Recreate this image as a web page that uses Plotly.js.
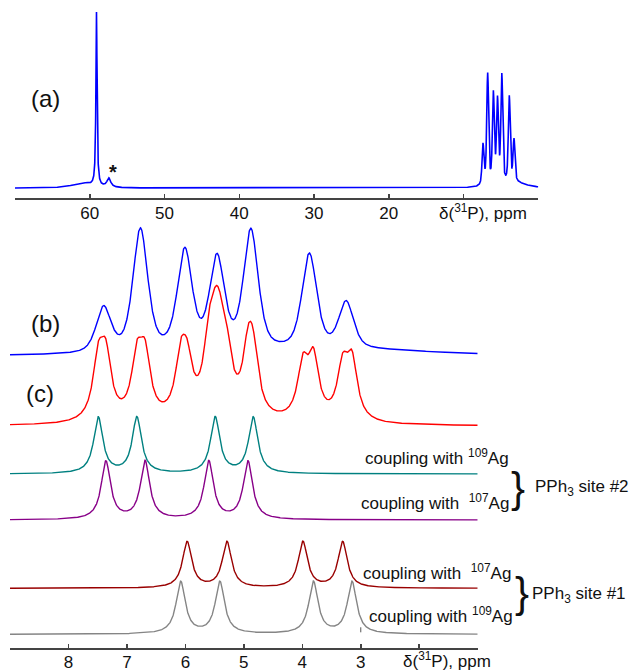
<!DOCTYPE html>
<html>
<head>
<meta charset="utf-8">
<script src="https://cdn.plot.ly/plotly-3.0.1.min.js"></script>
<style>
html,body{margin:0;padding:0;background:#fff;}
#chart{width:629px;height:672px;}
</style>
</head>
<body>
<div id="chart"></div>
<script>
// ---------------- DATA ----------------
// Experimental 31P spectrum, PPh3 region (trace b, also the multiplet in trace a)
const expPeakPpm = [7.40, 6.77, 6.01, 5.46, 4.88, 3.88, 3.25];
const expPeakInt = [45, 123, 100, 92, 120, 96, 47];
const expPeakFWHM = 0.30;
const expLorentzFraction = 0.55;
const expBroadPpm = [2.8];
const expBroadInt = [5];
const expBroadHW  = [1.5];

// Full-range spectrum (trace a): main peak, impurity (*) and broad foot
const fullPeakPpm = [59.1, 57.45, 61.0];
const fullPeakInt = [174, 9, 5];
const fullPeakHW  = [0.09, 0.3, 1.5];
const fullMultipletScale = 0.9;

// Simulated components (ppm, intensity)
const site2Ag109Ppm = [7.49, 6.83, 5.49, 4.84];
const site2Ag107Ppm = [7.36, 6.69, 5.60, 4.93];
const site1Ag107Ppm = [5.97, 5.29, 3.99, 3.31];
const site1Ag109Ppm = [6.08, 5.41, 3.81, 3.15];
const site2Ag109Int = [56, 56, 56, 56];
const site2Ag107Int = [58, 58, 58, 58];
const site1Ag107Int = [46, 46, 46, 46];
const site1Ag109Int = [52, 52, 52, 52];
const simHW = 0.095;
// total simulation (trace c): line half-width and weight of each component line
const totalHW = 0.11;
const totalWeightSite2 = [1.0, 1.0, 1.0, 0.95];
const totalWeightSite1 = [1.0, 1.0, 1.12, 1.08];

// Axis ticks
const topTickVals = [60, 50, 40, 30, 20];
const topTickText = ['60', '50', '40', '30', '20'];
const topMinorTicks = [70, 10, 0];
const botTickVals = [8, 7, 6, 5, 4, 3];
const botTickText = ['8', '7', '6', '5', '4', '3'];
const botMinorTicks = [9, 2, 1];

// Labels
const labelA = '(a)', labelB = '(b)', labelC = '(c)';
const axisTitle = 'δ(<sup>31</sup>P), ppm';
const lab109 = 'coupling with <sup>109</sup>Ag';
const lab107 = 'coupling with  <sup>107</sup>Ag';
const site2Label = 'PPh<sub>3</sub> site #2';
const site1Label = 'PPh<sub>3</sub> site #1';

// ---------------- LAYOUT CONSTANTS ----------------
const W = 629, H = 672;
const FONT = 'Liberation Sans, Arial, Helvetica, sans-serif';
const OFF = {a: 9.6, blue: 292.3, red: 222.3, teal: 174.3, purple: 128.3, darkred: 60, gray: 14};
const COL = {blue: '#0000ff', red: '#ff0000', teal: '#008080', purple: '#880088', darkred: '#990000', gray: '#858585'};

// ---------------- LINESHAPES ----------------
function sampleGrid(a, b, step) {
  const out = [];
  const n = Math.round(Math.abs(b - a) / step);
  for (let i = 0; i <= n; i++) out.push(a + (b - a) * i / n);
  return out;
}
function lorentz(xs, ppm, amp, hw, scale) {
  scale = scale || 1;
  return xs.map(x => {
    let s = 0;
    for (let i = 0; i < ppm.length; i++) {
      const g = Array.isArray(hw) ? hw[i] : hw;
      const w = Array.isArray(scale) ? scale[i] : scale;
      s += w * amp[i] * g * g / (g * g + (x - ppm[i]) * (x - ppm[i]));
    }
    return s;
  });
}
function pseudoVoigt(xs, ppm, amp, fwhm, eta, scale) {
  scale = scale || 1;
  const g = fwhm / 2, sig2 = Math.pow(fwhm / 2.3548, 2);
  return xs.map(x => {
    let s = 0;
    for (let i = 0; i < ppm.length; i++) {
      const d2 = (x - ppm[i]) * (x - ppm[i]);
      s += scale * amp[i] * (eta * g * g / (g * g + d2) + (1 - eta) * Math.exp(-d2 / (2 * sig2)));
    }
    return s;
  });
}
function addArr() {
  const arrs = Array.from(arguments);
  return arrs[0].map((_, i) => arrs.reduce((s, a) => s + a[i], 0));
}
function shift(arr, off) { return arr.map(v => v + off); }

// top spectrum
const xTop = sampleGrid(70, 0, 0.01);
const yTop = shift(addArr(
  lorentz(xTop, fullPeakPpm, fullPeakInt, fullPeakHW),
  pseudoVoigt(xTop, expPeakPpm, expPeakInt, expPeakFWHM, expLorentzFraction, fullMultipletScale),
  lorentz(xTop, expBroadPpm, expBroadInt, expBroadHW, fullMultipletScale)
), OFF.a);

// bottom spectra
const xB = sampleGrid(9, 1, 0.004);
const yBlue = shift(addArr(
  pseudoVoigt(xB, expPeakPpm, expPeakInt, expPeakFWHM, expLorentzFraction),
  lorentz(xB, expBroadPpm, expBroadInt, expBroadHW)
), OFF.blue);
const c2_109 = lorentz(xB, site2Ag109Ppm, site2Ag109Int, simHW);
const c2_107 = lorentz(xB, site2Ag107Ppm, site2Ag107Int, simHW);
const c1_107 = lorentz(xB, site1Ag107Ppm, site1Ag107Int, simHW);
const c1_109 = lorentz(xB, site1Ag109Ppm, site1Ag109Int, simHW);
const ySim = shift(addArr(
  lorentz(xB, site2Ag109Ppm, site2Ag109Int, totalHW, totalWeightSite2),
  lorentz(xB, site2Ag107Ppm, site2Ag107Int, totalHW, totalWeightSite2),
  lorentz(xB, site1Ag107Ppm, site1Ag107Int, totalHW, totalWeightSite1),
  lorentz(xB, site1Ag109Ppm, site1Ag109Int, totalHW, totalWeightSite1)
), OFF.red);

function tr(x, y, color, xa, ya, w) {
  return {x: x, y: y, type: 'scatter', mode: 'lines', xaxis: xa, yaxis: ya,
          line: {color: color, width: w || 1.4}, hoverinfo: 'skip', showlegend: false};
}

const data = [
  tr(xTop, yTop, COL.blue, 'x', 'y', 1.6),
  tr(xB, yBlue, COL.blue, 'x2', 'y2'),
  tr(xB, ySim, COL.red, 'x2', 'y2'),
  tr(xB, shift(c2_109, OFF.teal), COL.teal, 'x2', 'y2'),
  tr(xB, shift(c2_107, OFF.purple), COL.purple, 'x2', 'y2'),
  tr(xB, shift(c1_107, OFF.darkred), COL.darkred, 'x2', 'y2'),
  tr(xB, shift(c1_109, OFF.gray), COL.gray, 'x2', 'y2')
];

const px = x => x / W;
const py = y => (H - y) / H;

const axisCommon = {
  showline: true, linecolor: '#444', linewidth: 2,
  ticks: 'inside', ticklen: 4, tickwidth: 1.5, tickcolor: '#444',
  showgrid: false, zeroline: false, tickmode: 'array',
  tickfont: {family: FONT, size: 17, color: '#111'}
};
function minorTicks(vals) {
  return {tickmode: 'array', tickvals: vals, ticks: 'inside', ticklen: 4, tickwidth: 1.5,
          tickcolor: '#444', showgrid: false};
}

function ann(text, x, y, size, xanchor, extra) {
  return Object.assign({text: text, x: px(x), y: py(y), xref: 'paper', yref: 'paper',
    showarrow: false, xanchor: xanchor || 'center', yanchor: 'middle',
    font: {family: FONT, size: size, color: '#111'}}, extra || {});
}

const layout = {
  width: W, height: H,
  margin: {l: 0, r: 0, t: 0, b: 0},
  paper_bgcolor: '#fff', plot_bgcolor: 'rgba(0,0,0,0)',
  showlegend: false,
  xaxis: Object.assign({}, axisCommon, {domain: [px(15), px(538.3)], range: [70, 0], anchor: 'y',
    tickvals: topTickVals, ticktext: topTickText, ticklabelstandoff: -1, minor: minorTicks(topMinorTicks)}),
  yaxis: {domain: [py(197.7), py(3)], range: [0, 194.7], visible: false, fixedrange: true},
  xaxis2: Object.assign({}, axisCommon, {domain: [px(10), px(477.7)], range: [9, 1], anchor: 'y2',
    tickvals: botTickVals, ticktext: botTickText, ticklabelstandoff: -3, minor: minorTicks(botMinorTicks)}),
  yaxis2: {domain: [py(648.3), py(220)], range: [0, 428.3], visible: false, fixedrange: true},
  annotations: [
    ann(labelA, 45, 98, 24),
    ann(labelB, 45, 323, 24),
    ann(labelC, 40, 393, 24),
    ann('*', 112.5, 172, 20, 'center', {font: {family: FONT, size: 20, color: '#111', weight: 'bold'}}),
    ann(axisTitle, 482.5, 212, 17),
    ann(axisTitle, 446.7, 660, 17),
    ann(lab109, 511, 456.7, 17, 'right'),
    ann(lab107, 511, 502.3, 17, 'right'),
    ann('}', 518, 487, 42),
    ann(site2Label, 533, 488, 17, 'left'),
    ann(lab107, 513, 571.7, 17, 'right'),
    ann(lab109, 515, 615, 17, 'right'),
    ann('}', 521.5, 592, 42),
    ann(site1Label, 530, 595, 17, 'left')
  ],
  shapes: [
    {type: 'line', xref: 'x2', yref: 'y2', x0: 3, x1: 3, y0: 16, y1: 21, line: {color: '#555', width: 1}}
  ]
};

Plotly.newPlot('chart', data, layout, {displayModeBar: false, staticPlot: true});
</script>
</body>
</html>
